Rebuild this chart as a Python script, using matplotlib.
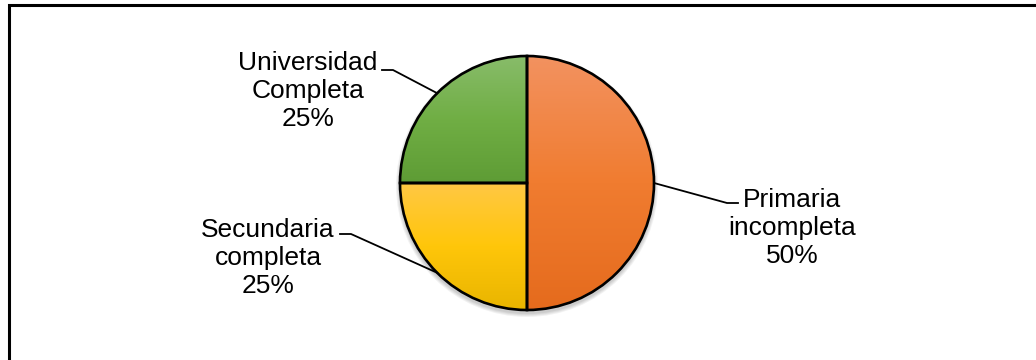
import numpy as np
import matplotlib.pyplot as plt
from matplotlib.colors import LinearSegmentedColormap
from matplotlib.patches import Rectangle, Circle

# data
labels = ['Primaria\nincompleta', 'Secundaria\ncompleta', 'Universidad\nCompleta']
shares = [50, 25, 25]
# top / middle / bottom colour of each slice gradient
grad_colors = [
    ('#F39260', '#F07C30', '#E56B1D'),
    ('#FFC845', '#FFC60A', '#E9B500'),
    ('#88BC6A', '#70AE44', '#5E9C35'),
]
# where the text blocks sit and where the leader elbows are (pixel coords, y up)
label_pos = [(792, 132), (268, 102), (308, 269)]
elbow_pos = [(727, 157), (351, 126), (393, 290)]
end_pos = [(738, 157), (340, 126), (382, 290)]

W, H = 1036, 360
fig = plt.figure(figsize=(W / 100, H / 100), dpi=100)
ax = fig.add_axes([0, 0, 1, 1])
ax.set_xlim(0, W)
ax.set_ylim(0, H)
ax.set_aspect('equal')
ax.axis('off')

cx, cy, r = 527, 177, 127

# soft shadow under the pie
for k, a in enumerate([0.05, 0.05, 0.05, 0.06]):
    ax.add_patch(Circle((cx, cy - 3), r + 4 - k, color='black', alpha=a, lw=0, zorder=0))

wedges, _ = ax.pie(shares, center=(cx, cy), radius=r, startangle=90, counterclock=False,
                   wedgeprops=dict(edgecolor='black', linewidth=1.9))

for w, cols in zip(wedges, grad_colors):
    v = w.get_path().vertices
    x0, x1 = v[:, 0].min(), v[:, 0].max()
    y0, y1 = v[:, 1].min(), v[:, 1].max()
    cmap = LinearSegmentedColormap.from_list('g', [cols[2], cols[1], cols[0]])
    grad = np.linspace(0, 1, 256).reshape(-1, 1)
    im = ax.imshow(grad, cmap=cmap, extent=(x0, x1, y0, y1), origin='lower',
                   aspect='auto', interpolation='bicubic', zorder=1.5)
    im.set_clip_path(w)
    w.set_facecolor('none')
    w.set_zorder(2)

ax.set_xlim(0, W)
ax.set_ylim(0, H)

for w, lab, share, tp, ep, lp in zip(wedges, labels, shares, label_pos, elbow_pos, end_pos):
    mid = np.deg2rad((w.theta1 + w.theta2) / 2)
    px, py = cx + r * np.cos(mid), cy + r * np.sin(mid)
    ax.plot([px, ep[0], lp[0]], [py, ep[1], lp[1]], color='black', lw=1.3, zorder=3)
    ax.text(tp[0], tp[1], f'{lab}\n{share}%', ha='center', va='center',
            fontsize=19, family='Liberation Sans', color='black', zorder=4)

# chart border (cropped on the right and bottom)
ax.add_patch(Rectangle((9, -20), W + 40, H + 15, fill=False, edgecolor='black',
                       lw=2.2, zorder=5, clip_on=True))

fig.savefig('out.png', dpi=100)
